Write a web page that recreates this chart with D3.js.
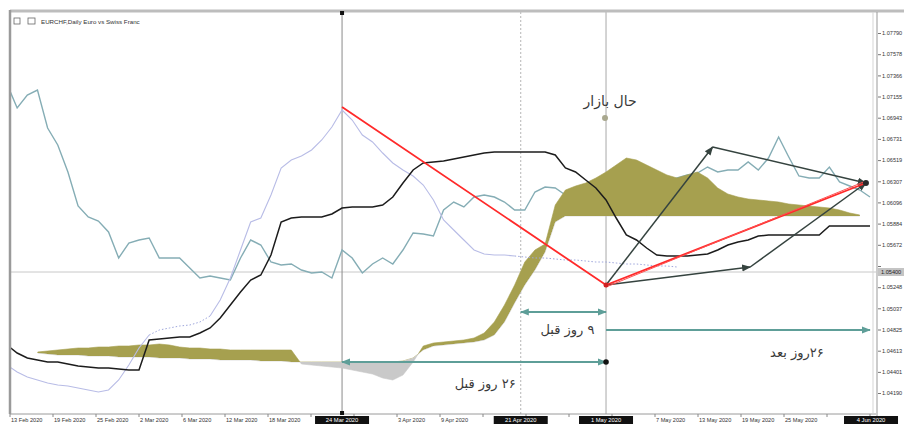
<!DOCTYPE html>
<html><head><meta charset="utf-8">
<script src="https://cdn.jsdelivr.net/npm/d3@7/dist/d3.min.js"></script>
<style>html,body{margin:0;padding:0;background:#fff;}svg{display:block}</style>
</head><body>
<svg id="chart" width="904" height="424"></svg>
<script>
// ---------------- DATA ----------------
const titleText = "EURCHF,Daily  Euro vs Swiss Franc";

// price line (bar index 0..85)
const closeLine = [1.0728,1.0704,1.0717,1.0722,1.0684,1.0667,1.0640,1.0606,1.0595,1.0591,
 1.0580,1.0554,1.0569,1.0572,1.0574,1.0554,1.0554,1.0554,1.0544,1.0534,
 1.0536,1.0534,1.0532,1.0554,1.0572,1.0567,1.0550,1.0547,1.0548,1.0542,
 1.0539,1.0540,1.0534,1.0562,1.0554,1.0539,1.0548,1.0554,1.0548,1.0562,
 1.0579,1.0578,1.0576,1.0602,1.0610,1.0605,1.0615,1.0617,1.0615,1.0610,
 1.0602,1.0602,1.0620,1.0625,1.0624,1.0617,1.0612,1.0607,1.0605,1.0604,
 1.0606,1.0609,1.0614,1.0620,1.0626,1.0630,1.0634,1.0637,1.0639,1.0645,
 1.0640,1.0642,1.0642,1.0650,1.0642,1.0654,1.0675,1.0655,1.0636,1.0634,
 1.0634,1.0645,1.0630,1.0626,1.0622,1.0615];

// kijun-sen (black)
const kijunLine = [1.0467,1.0459,1.0454,1.0452,1.0450,1.0450,1.0448,1.0446,1.0445,1.0444,
 1.0444,1.0443,1.0442,1.0442,1.0472,1.0473,1.0474,1.0475,1.0475,1.0479,
 1.0484,1.0494,1.0507,1.0520,1.0532,1.0537,1.0557,1.0590,1.0594,1.0595,
 1.0595,1.0595,1.0598,1.0604,1.0605,1.0605,1.0605,1.0607,1.0615,1.0629,
 1.0642,1.0649,1.0650,1.0651,1.0653,1.0655,1.0657,1.0659,1.0660,1.0660,
 1.0660,1.0660,1.0660,1.0660,1.0657,1.0644,1.0640,1.0632,1.0624,1.0612,
 1.0594,1.0577,1.0572,1.0564,1.0557,1.0556,1.0556,1.0556,1.0557,1.0558,
 1.0562,1.0567,1.0570,1.0572,1.0576,1.0577,1.0577,1.0577,1.0577,1.0577,
 1.0577,1.0586,1.0586,1.0586,1.0586,1.0586];

// light lavender line (index 0..66)
const chikouLine = [1.0447,1.0440,1.0435,1.0432,1.0429,1.0427,1.0426,1.0424,1.0422,1.0420,
 1.0422,1.0432,1.0447,1.0464,1.0477,1.0482,1.0484,1.0486,1.0487,1.0490,
 1.0496,1.0512,1.0534,1.0562,1.0590,1.0594,1.0617,1.0644,1.0652,1.0656,
 1.0662,1.0672,1.0685,1.0702,1.0692,1.0677,1.0670,1.0659,1.0649,1.0642,
 1.0636,1.0627,1.0612,1.0592,1.0582,1.0572,1.0562,1.0558,1.0557,1.0557,
 1.0556,1.0555,1.0554,1.0554,1.0553,1.0552,1.0552,1.0551,1.0550,1.0550,
 1.0549,1.0548,1.0548,1.0547,1.0546,1.0546,1.0545];
const chikouDotted = [[14,20],[50,66]];

// cloud spans (index 3..84)
const cloudStart = 3;
const spanA = [1.0460,1.0461,1.0462,1.0463,1.0464,1.0464,1.0465,1.0465,1.0466,1.0466,
 1.0467,1.0467,1.0468,1.0467,1.0465,1.0464,1.0464,1.0463,1.0463,1.0462,
 1.0462,1.0462,1.0462,1.0462,1.0462,1.0462,1.0448,1.0447,1.0446,1.0445,
 1.0444,1.0442,1.0440,1.0438,1.0434,1.0432,1.0437,1.0450,1.0466,1.0469,
 1.0470,1.0471,1.0472,1.0474,1.0479,1.0490,1.0507,1.0527,1.0550,1.0562,
 1.0568,1.0607,1.0622,1.0626,1.0629,1.0634,1.0640,1.0647,1.0654,1.0652,
 1.0647,1.0642,1.0637,1.0634,1.0637,1.0640,1.0634,1.0624,1.0618,1.0615,
 1.0613,1.0612,1.0611,1.0610,1.0608,1.0607,1.0606,1.0605,1.0604,1.0602,
 1.0599,1.0597];
const spanB = [1.0459,1.0458,1.0457,1.0457,1.0457,1.0456,1.0456,1.0456,1.0455,1.0455,
 1.0455,1.0455,1.0454,1.0454,1.0454,1.0453,1.0453,1.0453,1.0452,1.0452,
 1.0452,1.0452,1.0451,1.0451,1.0451,1.0450,1.0450,1.0450,1.0450,1.0450,
 1.0450,1.0450,1.0450,1.0450,1.0450,1.0450,1.0451,1.0454,1.0462,1.0466,
 1.0467,1.0468,1.0469,1.0470,1.0472,1.0477,1.0490,1.0509,1.0527,1.0542,
 1.0560,1.0590,1.0596,1.0596,1.0596,1.0596,1.0596,1.0596,1.0596,1.0596,
 1.0596,1.0596,1.0596,1.0596,1.0596,1.0596,1.0596,1.0596,1.0596,1.0596,
 1.0596,1.0596,1.0596,1.0596,1.0596,1.0596,1.0596,1.0596,1.0596,1.0596,
 1.0596,1.0596];

// right axis
const priceTicks = [1.07790,1.07578,1.07366,1.07155,1.06943,1.06731,1.06519,1.06307,1.06096,
 1.05884,1.05672,1.05460,1.05248,1.05037,1.04825,1.04613,1.04401,1.04190];
const bidPrice = 1.05400;

// bottom axis
const dateLabels = ["13 Feb 2020","19 Feb 2020","25 Feb 2020","2 Mar 2020","6 Mar 2020","12 Mar 2020",
 "18 Mar 2020","24 Mar 2020","30 Mar 2020","3 Apr 2020","9 Apr 2020","15 Apr 2020","21 Apr 2020",
 "27 Apr 2020","1 May 2020","7 May 2020","13 May 2020","19 May 2020","25 May 2020","29 May 2020","4 Jun 2020"];
const markerIdx = [33, 50.6, 59];
const markerDates = ["24 Mar 2020","21 Apr 2020","1 May 2020"];
const endIdx = 85.1, endDate = "4 Jun 2020";

// annotation points [bar index, price]
const redPath = [[33,1.0705],[59,1.0527],[84.6,1.0629]];
const upPath = [[59,1.0527],[69.5,1.0665],[84.6,1.0629]];
const lowPath = [[59,1.0527],[73.2,1.0545],[84.6,1.0629]];
const spanArrows = [
  {from:50.6, to:59, price:1.0500, both:true, dot:false},
  {from:33, to:59, price:1.0450, both:true, dot:true},
  {from:59, to:85, price:1.0482, both:false, dot:false}
];
const noteTexts = ["حال بازار","۹ روز قبل","۲۶ روز قبل","۲۶روز بعد"];
const noteIdx = [59.4, 55.2, 47.1, 77.8];
const notePrice = [1.0706, 1.0478, 1.0424, 1.0455];
const nowDot = [58.9, 1.0694];

// ---------------- CHART ----------------
const W=904, H=424;
const plot = {l:10, r:876, t:12, b:414};
const svg = d3.select("#chart");
const x = d3.scaleLinear().domain([0,85]).range([7,870]);
const y = d3.scaleLinear().domain([1.0388,1.0812]).range([424,0]);

const defs = svg.append("defs");
defs.append("clipPath").attr("id","plotClip").append("rect")
  .attr("x",plot.l).attr("y",plot.t).attr("width",plot.r-plot.l).attr("height",plot.b-plot.t);

svg.append("rect").attr("width",W).attr("height",H).attr("fill","#fff");

const g = svg.append("g").attr("clip-path","url(#plotClip)");

// bid line
g.append("line").attr("x1",plot.l).attr("x2",plot.r).attr("y1",y(bidPrice)).attr("y2",y(bidPrice))
  .attr("stroke","#c8c8c8").attr("stroke-width",1);

// vertical marker lines
const vStyles = [{c:"#8a8a8a",d:null},{c:"#b5b5b5",d:"2,2"},{c:"#a8a8a8",d:null}];
markerIdx.forEach((m,k)=>{
  g.append("line").attr("x1",x(m)).attr("x2",x(m)).attr("y1",plot.t).attr("y2",plot.b)
   .attr("stroke",vStyles[k].c).attr("stroke-width",1).attr("stroke-dasharray",vStyles[k].d);
});

// price line (drawn beneath the cloud)
const lineGen = d3.line().x((d,i)=>x(i)).y(d=>y(d));
g.append("path").attr("d",lineGen(closeLine)).attr("fill","none")
  .attr("stroke","#85adb5").attr("stroke-width",1.4);

// cloud
const cloud = spanA.map((a,k)=>({i:k+cloudStart,a:a,b:spanB[k]}));
defs.append("clipPath").attr("id","above").append("path")
  .attr("d", d3.area().x(d=>x(d.i)).y0(0).y1(d=>y(d.b))(cloud));
defs.append("clipPath").attr("id","below").append("path")
  .attr("d", d3.area().x(d=>x(d.i)).y0(H).y1(d=>y(d.b))(cloud));
const between = d3.area().x(d=>x(d.i)).y0(d=>y(d.a)).y1(d=>y(d.b));
g.append("g").attr("clip-path","url(#above)").append("path").attr("d",between(cloud))
  .attr("fill","#a6a04f").attr("stroke","#a6a04f").attr("stroke-width",0.6);
g.append("g").attr("clip-path","url(#below)").append("path").attr("d",between(cloud))
  .attr("fill","#c9c9c9").attr("stroke","#c9c9c9").attr("stroke-width",0.6);

// lavender line (solid + dotted parts)
const isDot = i => chikouDotted.some(r=>i>=r[0] && i<=r[1]);
const chSolid = d3.line().x(d=>x(d[0])).y(d=>y(d[1]));
let segs=[], cur=[], curDot=null;
for(let i=0;i<chikouLine.length-1;i++){
  const dot = isDot(i) && isDot(i+1);
  if(curDot===null || dot!==curDot){ if(cur.length) segs.push({dot:curDot,pts:cur}); cur=[[i,chikouLine[i]]]; curDot=dot; }
  cur.push([i+1,chikouLine[i+1]]);
}
segs.push({dot:curDot,pts:cur});
segs.forEach(s=>{
  g.append("path").attr("d",chSolid(s.pts)).attr("fill","none")
   .attr("stroke", s.dot ? "#9ea6dc" : "#b8bce6").attr("stroke-width", s.dot?1:1.1)
   .attr("stroke-dasharray", s.dot ? "1.5,2" : null);
});

// kijun line
g.append("path").attr("d",lineGen(kijunLine)).attr("fill","none")
  .attr("stroke","#1c1c1c").attr("stroke-width",1.5);

// ---- annotations ----
function marker(id,color,size){
  defs.append("marker").attr("id",id).attr("viewBox","0 0 10 10").attr("refX",9).attr("refY",5)
   .attr("markerWidth",size).attr("markerHeight",size).attr("orient","auto-start-reverse")
   .attr("markerUnits","userSpaceOnUse")
   .append("path").attr("d","M0,1 L10,5 L0,9 Z").attr("fill",color);
}
marker("arrDark","#35433f",9);
marker("arrTeal","#5e9e98",9);

const ptLine = d3.line().x(d=>x(d[0])).y(d=>y(d[1]));
const ann = svg.append("g").attr("clip-path","url(#plotClip)");

// dark arrows
[upPath, lowPath].forEach(p=>{
  for(let k=0;k<p.length-1;k++){
    ann.append("path").attr("d",ptLine([p[k],p[k+1]])).attr("fill","none")
      .attr("stroke","#35433f").attr("stroke-width",1.5).attr("marker-end","url(#arrDark)");
  }
});
// red lines
ann.append("path").attr("d",ptLine(redPath)).attr("fill","none")
  .attr("stroke","#ff2a2a").attr("stroke-width",1.8);
ann.append("path").attr("d",ptLine([[redPath[1][0],redPath[1][1]-0.0002],[redPath[2][0],redPath[2][1]+0.0002]]))
  .attr("fill","none").attr("stroke","#ff5050").attr("stroke-width",1);
ann.append("circle").attr("cx",x(redPath[1][0])).attr("cy",y(redPath[1][1])).attr("r",2.5).attr("fill","#d02020");
ann.append("circle").attr("cx",x(redPath[2][0])).attr("cy",y(redPath[2][1])).attr("r",3).attr("fill","#2a2a2a");

// teal span arrows
spanArrows.forEach(s=>{
  ann.append("line").attr("x1",x(s.from)).attr("x2",x(s.to)).attr("y1",y(s.price)).attr("y2",y(s.price))
    .attr("stroke","#5e9e98").attr("stroke-width",1.8)
    .attr("marker-end","url(#arrTeal)").attr("marker-start", s.both ? "url(#arrTeal)" : null);
  if(s.dot) ann.append("circle").attr("cx",x(s.to)).attr("cy",y(s.price)).attr("r",2.8).attr("fill","#111");
});

// now dot
ann.append("circle").attr("cx",x(nowDot[0])).attr("cy",y(nowDot[1])).attr("r",3).attr("fill","#a9a88e");

// Persian texts
noteTexts.forEach((t,k)=>{
  ann.append("text").attr("x",x(noteIdx[k])).attr("y",y(notePrice[k]))
    .attr("text-anchor","middle").attr("direction","rtl")
    .attr("font-family","'DejaVu Sans', sans-serif").attr("font-size",k===0?14:13)
    .attr("fill","#3a3a3a").text(t);
});

// ---- frame ----
svg.append("line").attr("x1",plot.l).attr("x2",W).attr("y1",11).attr("y2",11).attr("stroke","#bdbdbd").attr("stroke-width",3);
svg.append("line").attr("x1",plot.l).attr("x2",plot.l).attr("y1",10).attr("y2",plot.b).attr("stroke","#9a9a9a").attr("stroke-width",2.5);
svg.append("line").attr("x1",plot.l).attr("x2",plot.r).attr("y1",plot.b).attr("y2",plot.b).attr("stroke","#9a9a9a").attr("stroke-width",1);
svg.append("line").attr("x1",873).attr("x2",873).attr("y1",12).attr("y2",plot.b).attr("stroke","#d5d5d5").attr("stroke-width",1);
svg.append("line").attr("x1",plot.r+1).attr("x2",plot.r+1).attr("y1",12).attr("y2",H).attr("stroke","#999").attr("stroke-width",1);

// markers on the first vertical line
svg.append("rect").attr("x",x(markerIdx[0])-2).attr("y",plot.t-1).attr("width",4).attr("height",4).attr("fill","#111");
svg.append("rect").attr("x",x(markerIdx[0])-2).attr("y",plot.b-3).attr("width",4).attr("height",4).attr("fill","#111");

// title
const tg = svg.append("g");
tg.append("rect").attr("x",14).attr("y",18).attr("width",6).attr("height",6).attr("fill","none").attr("stroke","#666").attr("stroke-width",0.8);
tg.append("rect").attr("x",28).attr("y",18).attr("width",7).attr("height",6).attr("fill","none").attr("stroke","#666").attr("stroke-width",0.8);
tg.append("text").attr("x",41).attr("y",24).attr("font-family","'Liberation Sans', Arial, sans-serif")
  .attr("font-size",6.2).attr("fill","#333").text(titleText);

// right axis (labels hidden under the bid box are skipped)
const fmt = d3.format(".5f");
const yAxis = d3.axisRight(y).tickValues(priceTicks).tickSize(3).tickPadding(1)
  .tickFormat(d => Math.abs(y(d)-y(bidPrice))<8 ? "" : fmt(d));
const ax = svg.append("g").attr("transform",`translate(${plot.r+2},0)`).call(yAxis);
ax.select(".domain").remove();
ax.selectAll("line").attr("stroke","#777");
ax.selectAll("text").attr("font-family","'Liberation Sans', Arial, sans-serif").attr("font-size",5.6).attr("fill","#333");
// bid box
svg.append("rect").attr("x",plot.r+2).attr("y",y(bidPrice)-4).attr("width",W-plot.r-2).attr("height",8).attr("fill","#c4c4c4");
svg.append("text").attr("x",plot.r+5).attr("y",y(bidPrice)+2).attr("font-family","'Liberation Sans', Arial, sans-serif")
  .attr("font-size",5.6).attr("fill","#222").text(fmt(bidPrice));

// highlighted time boxes
const hl = markerIdx.map((m,k)=>({i:m,t:markerDates[k]})).concat([{i:endIdx,t:endDate}]);
const boxHalf = 27;

// bottom axis labels (those covered by a highlight box are hidden, as in the terminal)
const xd = d3.scaleLinear().domain([0,dateLabels.length-1]).range([11,871]);
const labW = 31;
const visible = dateLabels.map((d,i)=>({d,i})).filter(o=>{
  const a=xd(o.i), b=xd(o.i)+labW;
  return !hl.some(h=> b > x(h.i)-boxHalf-1 && a < x(h.i)+boxHalf+1);
});
svg.append("g").selectAll("text").data(visible).join("text")
  .attr("x",o=>xd(o.i)).attr("y",422).attr("font-family","'Liberation Sans', Arial, sans-serif")
  .attr("font-size",5.6).attr("fill","#333").text(o=>o.d);
svg.append("g").selectAll("line").data(dateLabels).join("line")
  .attr("x1",(d,i)=>xd(i)-1).attr("x2",(d,i)=>xd(i)-1).attr("y1",plot.b).attr("y2",plot.b+3).attr("stroke","#888");

hl.forEach(h=>{
  svg.append("rect").attr("x",x(h.i)-boxHalf).attr("y",plot.b+2).attr("width",boxHalf*2).attr("height",10).attr("fill","#111");
  svg.append("text").attr("x",x(h.i)).attr("y",422).attr("text-anchor","middle")
    .attr("font-family","'Liberation Sans', Arial, sans-serif").attr("font-size",5.8).attr("fill","#fff").text(h.t);
});
</script>
</body></html>
